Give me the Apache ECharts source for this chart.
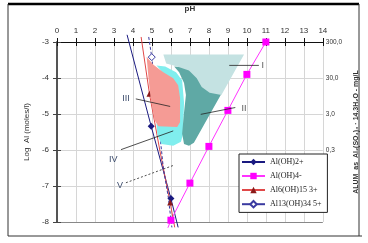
<!DOCTYPE html>
<html><head><meta charset="utf-8">
<script src="https://cdn.jsdelivr.net/npm/echarts/dist/echarts.min.js"></script>
<style>html,body{margin:0;padding:0;background:#fff}#c{width:368px;height:243px}</style>
</head><body><div id="c"></div>
<script>
// pH ticks / log ticks
var phTicks = [0,1,2,3,4,5,6,7,8,9,10,11,12,13,14];
var alumLabels = {'-3':'300,0','-4':'30,0','-5':'3,0','-6':'0,3'};

// series: [pH, log Al]
var alOH2 = [[3.69,-2.8],[4.96,-5.34],[6.0,-7.35],[6.38,-8.15]];
var alOH2Marked = [1,2];
var alOH4 = [[5.84,-8.16],[6.0,-7.95],[7.0,-6.92],[8.0,-5.9],[9.0,-4.9],[10.0,-3.9],[11.0,-3.0]];
var alOH4Marked = [1,2,3,4,5,6];
var al6 = [[4.43,-2.86],[4.87,-4.44],[5.43,-6.05],[5.96,-7.46],[6.2,-8.15]];
var al6Marked = [1,3];
var al13 = [[4.83,-2.86],[4.99,-3.42],[5.6,-6.5],[5.86,-7.31],[6.05,-8.15]];
var al13Marked = [1];

// regions (pH, log Al)
var regionI = [[5.60,-3.35],[9.85,-3.35],[8.66,-4.47],[8.04,-4.41],[7.62,-4.25],[7.36,-4.01],[6.95,-3.79],[6.33,-3.68],[5.75,-3.60]];
var regionII = [[6.17,-3.68],[7.41,-3.73],[8.04,-4.28],[8.66,-4.44],[7.21,-5.80],[6.95,-5.88],[6.69,-5.83],[6.59,-5.55],[6.69,-4.96],[6.79,-4.47],[6.69,-4.14],[6.43,-3.84]];
var regionIV = [[5.24,-3.65],[5.70,-3.68],[6.27,-3.84],[6.59,-4.06],[6.69,-4.68],[6.64,-5.55],[6.53,-5.77],[6.12,-5.88],[5.50,-5.83],[5.29,-5.58],[5.24,-5.28],[5.86,-4.68],[5.60,-3.87]];
var regionIII = [[4.72,-3.41],[5.08,-3.63],[5.60,-3.84],[6.12,-4.01],[6.38,-4.20],[6.48,-4.55],[6.48,-5.23],[6.33,-5.36],[5.34,-5.34],[5.13,-5.17],[4.93,-4.55],[4.82,-4.01]];

// annotations: label, label position, pointer from, pointer to
var annNames = ['I','II','III','IV','V'];
var annText = [[10.84,-3.65],[9.85,-4.85],[3.63,-4.58],[2.96,-6.26],[3.32,-7.0]];
var annFrom = [[10.63,-3.65],[9.39,-4.82],[4.15,-4.58],[3.37,-5.99],[3.63,-6.91]];
var annTo = [[9.07,-3.65],[7.57,-5.01],[5.96,-4.79],[6.12,-5.47],[6.17,-6.42]];

function mk(arr, idx){ return arr.map(function(p,i){ return idx.indexOf(i)>=0 ? {value:p} : {value:p, symbol:'none'}; }); }
function region(name, pts, color, z){
  return {type:'custom', name:name, z:z, silent:true, data:[0],
    renderItem:function(params, api){
      return {type:'polygon', shape:{points:pts.map(function(p){return api.coord(p);})}, style:{fill:color}};
    }};
}
var ff = 'Liberation Sans, Arial, sans-serif';
var chart = echarts.init(document.getElementById('c'), null, {renderer:'canvas'});
var opt = {
  animation:false,
  grid:{left:57, top:38, width:270, height:184},
  xAxis:[
    {type:'value', position:'top', min:0, max:14, interval:1,
     name:'pH', nameLocation:'middle', nameGap:29, nameTextStyle:{fontFamily:ff, fontSize:8, fontWeight:'bold', color:'#333'},
     axisLine:{lineStyle:{color:'#111', width:1.2}}, axisTick:{length:4, lineStyle:{color:'#111'}},
     axisLabel:{fontFamily:ff, fontSize:8, color:'#333', margin:7},
     splitLine:{show:true, lineStyle:{color:'#d6d6d6'}}},
    {type:'value', position:'top', min:0, max:14, interval:1,
     axisLine:{show:false}, axisTick:{inside:true, length:4, lineStyle:{color:'#111'}},
     axisLabel:{show:false}, splitLine:{show:false}}
  ],
  yAxis:[
    {type:'value', position:'left', min:-8, max:-3, interval:1,
     name:'Log  Al (moles/l)', nameLocation:'middle', nameGap:24, nameRotate:90,
     nameTextStyle:{fontFamily:ff, fontSize:8, color:'#333'},
     axisLine:{lineStyle:{color:'#555', width:2}}, axisTick:{length:4, lineStyle:{color:'#444'}},
     axisLabel:{fontFamily:ff, fontSize:8, color:'#333', margin:8},
     splitLine:{show:true, lineStyle:{color:['#888','#d6d6d6','#d6d6d6','#d6d6d6','#d6d6d6','#d6d6d6'], width:1}}},
    {type:'value', position:'left', min:-8, max:-3, interval:1,
     axisLine:{show:false}, axisTick:{inside:true, length:4, lineStyle:{color:'#444'}},
     axisLabel:{show:false}, splitLine:{show:false}},
    {type:'value', position:'right', min:-8, max:-3, interval:1,
     name:'ALUM  as  Al\u2082(SO\u2084)\u2083 \u00b7 14.3H\u2082O - mg/L', nameLocation:'middle', nameGap:21, nameRotate:90,
     nameTextStyle:{fontFamily:ff, fontSize:7, fontWeight:'bold', color:'#333'},
     axisLine:{show:false}, axisTick:{show:false},
     axisLabel:{fontFamily:ff, fontSize:6.5, color:'#333', margin:3, formatter:function(v){return alumLabels[String(v)]||'';}},
     splitLine:{show:false}}
  ],
  legend:{orient:'vertical', left:239, top:154, padding:[4,6,4,2], itemGap:6, itemWidth:23, itemHeight:8,
    backgroundColor:'#fff', borderColor:'#222', borderWidth:1, borderRadius:0,
    textStyle:{fontFamily:'Liberation Serif, Times New Roman, serif', fontSize:8, color:'#222'},
    data:['Al(OH)2+','Al(OH)4-','Al6(OH)15 3+',{name:'Al13(OH)34 5+', lineStyle:{type:'solid'}}]},
  graphic:[
    {type:'line', shape:{x1:8,y1:4,x2:359,y2:4}, style:{stroke:'#000', lineWidth:2.5}},
    {type:'line', shape:{x1:8,y1:4,x2:8,y2:236}, style:{stroke:'#333', lineWidth:1}},
    {type:'line', shape:{x1:8,y1:236,x2:362,y2:236}, style:{stroke:'#333', lineWidth:1}},
    {type:'line', shape:{x1:359,y1:4,x2:359,y2:236}, style:{stroke:'#333', lineWidth:1}}
  ],
  series:[
    {type:'line', name:'Al(OH)2+', data:mk(alOH2, alOH2Marked), clip:false, z:2,
     lineStyle:{color:'#1a1a80', width:1}, itemStyle:{color:'#1a1a80'}, symbol:'diamond', symbolSize:7},
    {type:'line', name:'Al(OH)4-', data:mk(alOH4, alOH4Marked), clip:false, z:2,
     lineStyle:{color:'#ff33ff', width:1}, itemStyle:{color:'#ff00ff'}, symbol:'rect', symbolSize:7},
    {type:'line', name:'Al6(OH)15 3+', data:mk(al6, al6Marked), clip:false, z:2,
     lineStyle:{color:'#e04848', width:1}, itemStyle:{color:'#8b1a1a'}, symbol:'triangle', symbolSize:6},
    {type:'line', name:'Al13(OH)34 5+', data:mk(al13, al13Marked), clip:false, z:2,
     lineStyle:{color:'#3a3aa0', width:1, type:[3,2]}, itemStyle:{color:'#fff', borderColor:'#3a3aa0', borderWidth:1}, symbol:'diamond', symbolSize:7},
    region('IV', regionIV, '#80eeee', 3),
    region('III', regionIII, '#f59b95', 4),
    region('II', regionII, '#5fa9a5', 3),
    region('I', regionI, '#c4e2e2', 4),
    {type:'custom', name:'ann', z:6, silent:true, data:annNames.map(function(n,i){return i;}),
     renderItem:function(params, api){
       var i = params.dataIndex;
       var a = api.coord(annFrom[i]), b = api.coord(annTo[i]), t = api.coord(annText[i]);
       var roman = annNames[i];
       var col = (i<2) ? '#555' : '#3b4b6b';
       return {type:'group', children:[
         {type:'line', shape:{x1:a[0],y1:a[1],x2:b[0],y2:b[1]}, style:{stroke:'#222', lineWidth:0.8, lineDash:(i===4?[2,2]:null)}},
         {type:'text', x:t[0], y:t[1], style:{text:roman, fill:col, font:'9px '+ff, align:'center', verticalAlign:'middle'}}
       ]};
     }}
  ]
};
chart.setOption(opt);
</script></body></html>
